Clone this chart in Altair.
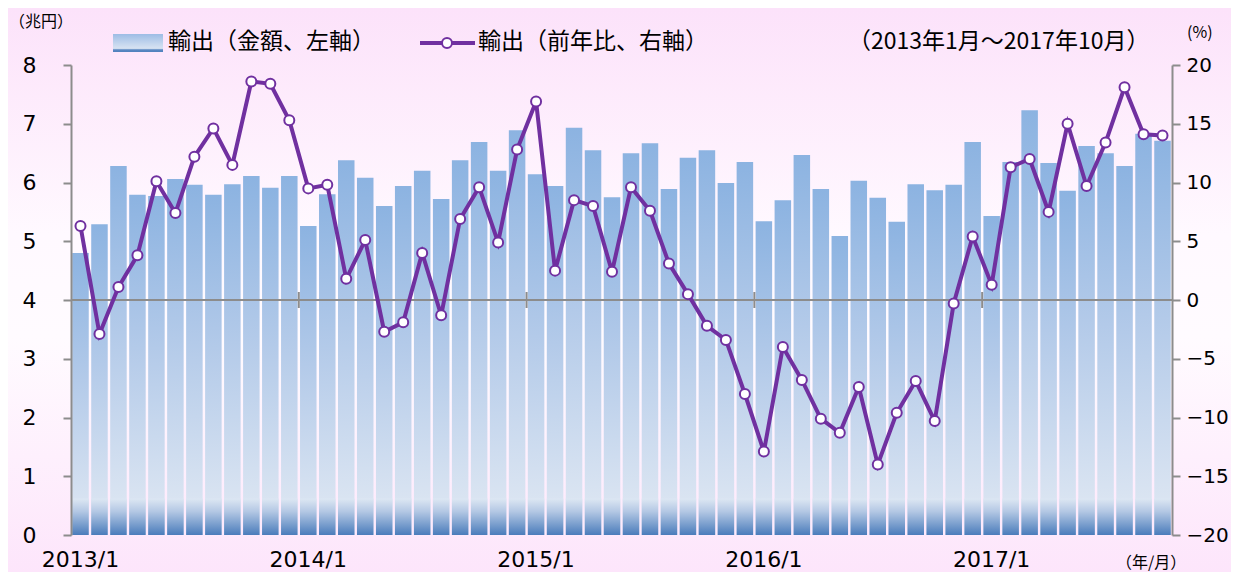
import altair as alt
import pandas as pd

# ---- data ----
months = [f"{y}/{m}" for y in range(2013, 2018) for m in range(1, 13)][:58]

exports_trillion_yen = [
    4.80, 5.29, 6.28, 5.79, 5.77, 6.06, 5.96, 5.79, 5.97, 6.11, 5.91, 6.11,
    5.26, 5.80, 6.38, 6.08, 5.60, 5.94, 6.20, 5.72, 6.38, 6.69, 6.20, 6.89,
    6.14, 5.94, 6.93, 6.55, 5.75, 6.50, 6.67, 5.89, 6.42, 6.55, 5.99, 6.35,
    5.34, 5.70, 6.47, 5.89, 5.09, 6.03, 5.74, 5.33, 5.97, 5.87, 5.96, 6.69,
    5.43, 6.35, 7.23, 6.33, 5.86, 6.62, 6.50, 6.28, 6.83, 6.71,
]

exports_yoy_pct = [
    6.3, -2.9, 1.1, 3.8, 10.1, 7.4, 12.2, 14.6, 11.5, 18.6, 18.4, 15.3,
    9.5, 9.8, 1.8, 5.1, -2.7, -1.9, 4.0, -1.3, 6.9, 9.6, 4.9, 12.8,
    16.9, 2.5, 8.5, 8.0, 2.4, 9.6, 7.6, 3.1, 0.5, -2.2, -3.4, -8.0,
    -12.9, -4.0, -6.8, -10.1, -11.3, -7.4, -14.0, -9.6, -6.9, -10.3, -0.3, 5.4,
    1.3, 11.3, 12.0, 7.5, 15.0, 9.7, 13.4, 18.1, 14.1, 14.0,
]

year_starts = ["2014/1", "2015/1", "2016/1", "2017/1"]

left_ticks = [0, 1, 2, 3, 4, 5, 6, 7, 8]
right_ticks = [-20, -15, -10, -5, 0, 5, 10, 15, 20]

legend_bar_label = "輸出（金額、左軸）"
legend_line_label = "輸出（前年比、右軸）"
period_label = "（2013年1月～2017年10月）"
left_unit = "（兆円）"
right_unit = "(%)"
x_unit = "（年/月）"

df = pd.DataFrame({"month": months, "exports": exports_trillion_yen, "yoy": exports_yoy_pct})
ys_df = pd.DataFrame({"month": year_starts})
one = pd.DataFrame({"k": [0]})

W, H = 1101, 470
JP = "Noto Sans CJK JP"
NUM = "DejaVu Sans"
PURPLE = "#7030a0"
GRAY = "#8c8c8c"

xscale = alt.Scale(domain=months, paddingInner=0, paddingOuter=0)
x_axis = alt.Axis(
    title=None, domain=False, ticks=False, labelFontSize=22, labelFont=NUM,
    labelColor="#000", labelPadding=14, labelAngle=0, labelOverlap=False,
    labelExpr="slice(datum.label, -2) == '/1' ? datum.label : ''", zindex=1,
)
X = alt.X("month:N", sort=months, scale=xscale, axis=x_axis)

def grad(stops):
    return alt.Gradient(
        gradient="linear", x1=0, x2=0, y1=0, y2=1,
        stops=[alt.GradientStop(color=c, offset=o) for o, c in stops],
    )

# background
bg = alt.Chart(one).mark_rect(
    fill=grad([(0, "#fce2fa"), (0.40, "#fff9ff"), (0.58, "#fffbff"), (1, "#fde5fb")])
).encode(x=alt.value(-63), x2=alt.value(W + 65), y=alt.value(-57), y2=alt.value(H + 40))

yleft = alt.Y(
    "exports:Q",
    scale=alt.Scale(domain=[0, 8], nice=False, zero=True),
    axis=alt.Axis(
        title=None, values=left_ticks, format="d", grid=False, tickSize=8, tickWidth=2,
        tickColor=GRAY, domainColor=GRAY, domainWidth=2, labelFontSize=22, labelFont=NUM,
        labelColor="#000", labelPadding=27, zindex=1, orient="left",
    ),
)

bars = alt.Chart(df).mark_bar(
    width=alt.RelativeBandSize(0.87),
    fill=grad([(0, "#8cb3e1"), (0.45, "#b3cae9"), (0.92, "#dbe5f2"), (1, "#dde7f3")]),
).encode(x=X, y=yleft, y2=alt.datum(0))

bars_bottom = alt.Chart(df).mark_bar(
    width=alt.RelativeBandSize(0.87),
    fill=grad([(0, "#dde7f3"), (0.35, "#b4c8e4"), (1, "#4a7cbb")]),
).encode(x=X, y=alt.datum(0.62), y2=alt.datum(0))

zero_rule = alt.Chart(one).mark_rule(color=GRAY, strokeWidth=2).encode(
    x=alt.value(0), x2=alt.value(W), y=alt.datum(4)
)

year_ticks = alt.Chart(ys_df).mark_rule(color=GRAY, strokeWidth=2).encode(
    x=alt.X("month:N", sort=months, scale=xscale, bandPosition=0, axis=x_axis),
    y=alt.value(227), y2=alt.value(243),
)

# legend and notes
sw = alt.Chart(one).mark_rect(
    fill=grad([(0, "#9dbce5"), (0.8, "#d8e3f2"), (0.88, "#5a87c2"), (1, "#4f81bd")])
).encode(x=alt.value(42), x2=alt.value(92), y=alt.value(-31), y2=alt.value(-13))

def txt(s, x, y, size, align="left", font=JP):
    return alt.Chart(one).mark_text(
        text=s, align=align, baseline="middle", fontSize=size, font=font, color="#000"
    ).encode(x=alt.value(x), y=alt.value(y))

leg_line = alt.Chart(one).mark_rule(color=PURPLE, strokeWidth=4).encode(
    x=alt.value(349), x2=alt.value(404), y=alt.value(-22)
)
leg_pt = alt.Chart(one).mark_point(
    shape="circle", filled=True, fill="white", stroke=PURPLE, strokeWidth=2, size=100, opacity=1
).encode(x=alt.value(376), y=alt.value(-22))

left_layer = alt.layer(
    bg, bars, bars_bottom, zero_rule, year_ticks, sw, leg_line, leg_pt,
    txt(legend_bar_label, 97, -23, 23),
    txt(legend_line_label, 407, -23, 23),
    txt(period_label, 777, -23, 23),
    txt(left_unit, -62, -43, 16),
    txt(right_unit, 1116, -32, 16),
    txt(x_unit, 1045, 498, 16),
)

yright = alt.Y(
    "yoy:Q",
    scale=alt.Scale(domain=[-20, 20], nice=False, zero=False),
    axis=alt.Axis(
        title=None, values=right_ticks, grid=False, tickSize=8, tickWidth=2, tickColor=GRAY,
        domainColor=GRAY, domainWidth=2, labelFontSize=20, labelFont=NUM, labelColor="#000",
        labelPadding=6, zindex=1, orient="right",
    ),
)

line = alt.Chart(df).mark_line(color=PURPLE, strokeWidth=4).encode(x=X, y=yright)
pts = alt.Chart(df).mark_point(
    shape="circle", filled=True, fill="white", stroke=PURPLE, strokeWidth=2, size=100, opacity=1
).encode(x=X, y=yright)

right_layer = alt.layer(line, pts)

chart = (
    alt.layer(left_layer, right_layer)
    .resolve_scale(y="independent")
    .properties(
        width=W, height=H,
        autosize=alt.AutoSizeParams(type="none"),
        padding={"left": 63, "top": 57, "right": 59, "bottom": 37},
    )
    .configure(background="#fde6fb")
    .configure_view(stroke=None)
)

chart.save("out.html", embed_options={"renderer": "svg", "actions": False})
